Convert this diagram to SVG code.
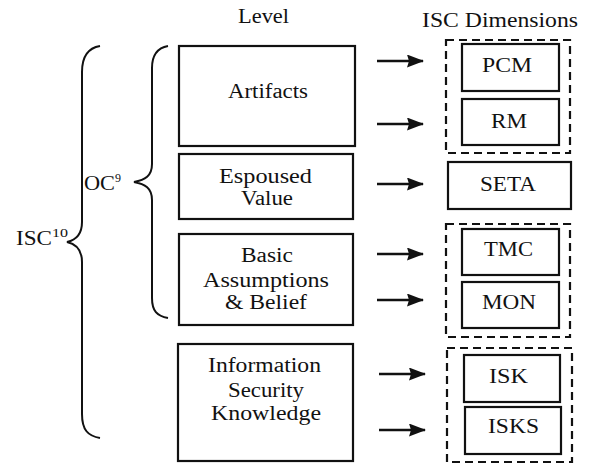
<svg xmlns="http://www.w3.org/2000/svg" width="589" height="464" viewBox="0 0 589 464">
<defs>
<style>
text{font-family:'Liberation Serif','Times New Roman',serif;font-size:20px;fill:#111;}
.sup{font-size:12px;}
.box{fill:#fff;stroke:#111;stroke-width:2.2;}
.dash{fill:none;stroke:#111;stroke-width:2.2;stroke-dasharray:8 5;}
.br{fill:none;stroke:#111;stroke-width:2;}
.arr{stroke:#111;stroke-width:2.6;marker-end:url(#ah);}
</style>
<marker id="ah" markerWidth="17" markerHeight="13" refX="16" refY="6.5" orient="auto" markerUnits="userSpaceOnUse">
<path d="M0,0 L17,6.5 L0,13 L2,6.5 Z" fill="#111"/>
</marker>
</defs>
<rect width="589" height="464" fill="#fff"/>

<text id="t-level" x="238" y="23" textLength="51" lengthAdjust="spacingAndGlyphs">Level</text>
<text id="t-dims" x="422" y="27" textLength="156" lengthAdjust="spacingAndGlyphs">ISC Dimensions</text>

<g id="brace-isc">
<path class="br" d="M100,46 C88,48 82,56 82,72 L82,222 C82,234 76,240 67,242 C76,244 82,250 82,262 L82,414 C82,430 88,436 100,438"/>
<text x="16" y="245" textLength="36" lengthAdjust="spacingAndGlyphs">ISC</text>
<text class="sup" x="52" y="237" textLength="16" lengthAdjust="spacingAndGlyphs">10</text>
</g>

<g id="brace-oc">
<path class="br" d="M168,46 C157,48 152,55 152,68 L152,164 C152,176 145,180 134,182 C145,184 152,188 152,200 L152,298 C152,311 157,316 168,318"/>
<text x="84" y="190" textLength="31" lengthAdjust="spacingAndGlyphs">OC</text>
<text class="sup" x="115" y="182">9</text>
</g>

<g id="n-artifacts">
<rect class="box" x="179" y="46" width="176" height="100"/>
<text x="228" y="98" textLength="80" lengthAdjust="spacingAndGlyphs">Artifacts</text>
</g>
<g id="n-espoused">
<rect class="box" x="179" y="154" width="174" height="65"/>
<text x="219" y="183" textLength="93" lengthAdjust="spacingAndGlyphs">Espoused</text>
<text x="241" y="205" textLength="52" lengthAdjust="spacingAndGlyphs">Value</text>
</g>
<g id="n-basic">
<rect class="box" x="179" y="234" width="174" height="91"/>
<text x="241" y="262" textLength="52" lengthAdjust="spacingAndGlyphs">Basic</text>
<text x="203" y="287" textLength="126" lengthAdjust="spacingAndGlyphs">Assumptions</text>
<text x="225" y="309" textLength="82" lengthAdjust="spacingAndGlyphs">&amp; Belief</text>
</g>
<g id="n-isk-level">
<rect class="box" x="178" y="344" width="175" height="117"/>
<text x="208" y="372" textLength="113" lengthAdjust="spacingAndGlyphs">Information</text>
<text x="228" y="397" textLength="76" lengthAdjust="spacingAndGlyphs">Security</text>
<text x="211" y="420" textLength="110" lengthAdjust="spacingAndGlyphs">Knowledge</text>
</g>

<g id="g-artifacts-dims">
<rect class="dash" x="446" y="40" width="124" height="113"/>
</g>
<g id="n-pcm">
<rect class="box" x="462" y="44" width="97" height="47"/>
<text x="482" y="72" textLength="50" lengthAdjust="spacingAndGlyphs">PCM</text>
</g>
<g id="n-rm">
<rect class="box" x="462" y="99" width="97" height="46"/>
<text x="491" y="128" textLength="36" lengthAdjust="spacingAndGlyphs">RM</text>
</g>
<g id="n-seta">
<rect class="box" x="448" y="162" width="123" height="47"/>
<text x="480" y="191" textLength="56" lengthAdjust="spacingAndGlyphs">SETA</text>
</g>
<g id="g-basic-dims">
<rect class="dash" x="446" y="224" width="124" height="113"/>
</g>
<g id="n-tmc">
<rect class="box" x="462" y="229" width="97" height="46"/>
<text x="484" y="256" textLength="49" lengthAdjust="spacingAndGlyphs">TMC</text>
</g>
<g id="n-mon">
<rect class="box" x="462" y="282" width="97" height="46"/>
<text x="482" y="309" textLength="54" lengthAdjust="spacingAndGlyphs">MON</text>
</g>
<g id="g-knowledge-dims">
<rect class="dash" x="447" y="348" width="125" height="114"/>
</g>
<g id="n-isk">
<rect class="box" x="464" y="355" width="96" height="47"/>
<text x="489" y="383" textLength="39" lengthAdjust="spacingAndGlyphs">ISK</text>
</g>
<g id="n-isks">
<rect class="box" x="465" y="407" width="96" height="47"/>
<text x="488" y="433" textLength="51" lengthAdjust="spacingAndGlyphs">ISKS</text>
</g>

<g id="connectors">
<line class="arr" x1="377" y1="61" x2="423" y2="61"/>
<line class="arr" x1="377" y1="124" x2="423" y2="124"/>
<line class="arr" x1="377" y1="184" x2="423" y2="184"/>
<line class="arr" x1="377" y1="254" x2="423" y2="254"/>
<line class="arr" x1="377" y1="300" x2="423" y2="300"/>
<line class="arr" x1="379" y1="374" x2="425" y2="374"/>
<line class="arr" x1="379" y1="430" x2="425" y2="430"/>
</g>
</svg>
